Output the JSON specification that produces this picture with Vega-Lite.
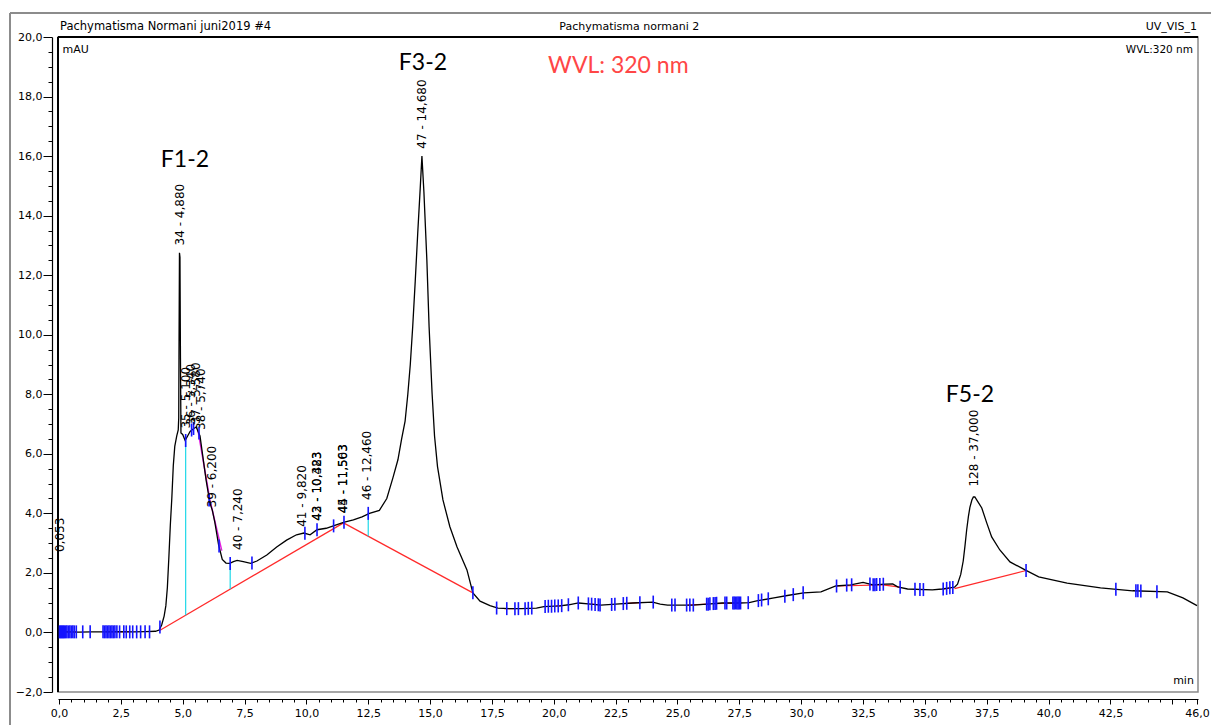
{
  "$schema": "https://vega.github.io/schema/vega-lite/v6.json",
  "width": 1140,
  "height": 655,
  "autosize": {"type": "none"},
  "padding": {"left": 58, "top": 37, "right": 13, "bottom": 33},
  "background": "white",
  "config": {
    "view": {"stroke": "#8a8a8a", "strokeWidth": 1.5},
    "font": "DejaVu Sans",
    "axis": {"labelFont": "DejaVu Sans", "labelFontSize": 11, "labelColor": "black", "tickColor": "black", "domainColor": "black", "grid": false, "titleFont": "DejaVu Sans", "titleFontWeight": "normal", "titleFontSize": 11, "titleColor": "black"}
  },
  "datasets": {
    "anchor": [{}],
    "signal": [
      {"t":0.00,"v":0.00},{"t":0.03,"v":0.06},{"t":0.06,"v":0.02},{"t":0.3,"v":0.02},{"t":0.8,"v":0.01},{"t":1.3,"v":0.02},{"t":1.8,"v":0.02},{"t":2.4,"v":0.03},{"t":3.0,"v":0.02},{"t":3.5,"v":0.03},{"t":3.9,"v":0.04},
      {"t":4.05,"v":0.08},{"t":4.15,"v":0.25},{"t":4.25,"v":0.55},{"t":4.32,"v":0.9},{"t":4.38,"v":1.5},{"t":4.44,"v":2.5},{"t":4.50,"v":3.6},{"t":4.56,"v":4.5},{"t":4.62,"v":5.6},{"t":4.68,"v":6.25},{"t":4.76,"v":6.6},{"t":4.82,"v":6.8},{"t":4.84,"v":7.2},{"t":4.85,"v":9.25},{"t":4.87,"v":12.75},{"t":4.89,"v":12.6},{"t":4.91,"v":9.2},{"t":4.93,"v":6.7},
      {"t":5.00,"v":6.65},{"t":5.10,"v":6.45},{"t":5.20,"v":6.6},{"t":5.30,"v":6.75},{"t":5.45,"v":6.85},{"t":5.55,"v":6.9},{"t":5.62,"v":6.75},{"t":5.70,"v":6.6},{"t":5.80,"v":6.0},{"t":5.95,"v":5.1},{"t":6.10,"v":4.35},{"t":6.20,"v":4.1},{"t":6.30,"v":3.7},{"t":6.45,"v":2.95},{"t":6.60,"v":2.45},{"t":6.75,"v":2.33},{"t":6.90,"v":2.32},{"t":7.05,"v":2.38},{"t":7.20,"v":2.42},{"t":7.45,"v":2.38},{"t":7.75,"v":2.32},
      {"t":8.00,"v":2.4},{"t":8.40,"v":2.6},{"t":8.80,"v":2.87},{"t":9.20,"v":3.1},{"t":9.60,"v":3.28},{"t":9.90,"v":3.34},{"t":10.15,"v":3.28},{"t":10.43,"v":3.45},{"t":10.80,"v":3.5},{"t":11.15,"v":3.6},{"t":11.50,"v":3.7},{"t":11.90,"v":3.78},{"t":12.25,"v":3.88},{"t":12.55,"v":4.0},{"t":12.95,"v":4.1},
      {"t":13.25,"v":4.5},{"t":13.50,"v":5.2},{"t":13.70,"v":5.8},{"t":13.85,"v":6.5},{"t":13.99,"v":7.1},{"t":14.10,"v":8.0},{"t":14.20,"v":9.0},{"t":14.30,"v":10.3},{"t":14.40,"v":11.8},{"t":14.50,"v":13.4},{"t":14.60,"v":14.9},{"t":14.67,"v":16.0},{"t":14.75,"v":14.8},{"t":14.87,"v":12.5},{"t":14.96,"v":10.27},{"t":15.08,"v":8.04},{"t":15.18,"v":6.6},{"t":15.30,"v":5.57},{"t":15.52,"v":4.45},{"t":15.80,"v":3.55},{"t":16.09,"v":2.87},{"t":16.49,"v":2.1},{"t":16.73,"v":1.33},{"t":17.02,"v":1.05},{"t":17.42,"v":0.9},{"t":17.74,"v":0.82},
      {"t":18.2,"v":0.8},{"t":18.7,"v":0.8},{"t":19.3,"v":0.82},{"t":19.6,"v":0.87},{"t":20.25,"v":0.89},{"t":20.6,"v":0.93},{"t":21.0,"v":0.99},{"t":21.5,"v":0.95},{"t":21.9,"v":0.92},{"t":22.5,"v":0.95},{"t":23.2,"v":0.99},{"t":24.0,"v":1.02},{"t":24.3,"v":0.95},{"t":24.6,"v":0.92},{"t":25.6,"v":0.92},{"t":26.2,"v":0.95},{"t":26.8,"v":0.99},{"t":27.5,"v":0.99},{"t":27.9,"v":1.0},{"t":28.2,"v":1.06},{"t":28.9,"v":1.16},{"t":29.5,"v":1.25},{"t":30.1,"v":1.33},{"t":30.8,"v":1.36},{"t":31.4,"v":1.56},{"t":32.0,"v":1.6},{"t":32.5,"v":1.68},{"t":32.9,"v":1.6},{"t":33.4,"v":1.62},{"t":33.7,"v":1.63},{"t":33.9,"v":1.53},{"t":34.3,"v":1.46},{"t":35.3,"v":1.43},{"t":35.7,"v":1.46},{"t":36.0,"v":1.5},{"t":36.2,"v":1.52},
      {"t":36.32,"v":1.62},{"t":36.45,"v":1.95},{"t":36.55,"v":2.4},{"t":36.62,"v":2.9},{"t":36.69,"v":3.45},{"t":36.76,"v":3.9},{"t":36.82,"v":4.2},{"t":36.9,"v":4.45},{"t":36.96,"v":4.55},{"t":37.02,"v":4.55},{"t":37.12,"v":4.42},{"t":37.3,"v":4.18},{"t":37.5,"v":3.68},{"t":37.7,"v":3.21},{"t":38.03,"v":2.77},{"t":38.44,"v":2.37},{"t":39.05,"v":2.1},{"t":39.6,"v":1.87},{"t":40.75,"v":1.66},{"t":42.1,"v":1.5},{"t":43.4,"v":1.4},{"t":44.8,"v":1.36},{"t":45.43,"v":1.16},{"t":46.0,"v":0.9}
    ],
    "baselines": [
      {"seg":"a","t":4.05,"v":0.06},{"seg":"a","t":11.5,"v":3.68},
      {"seg":"b","t":11.5,"v":3.68},{"seg":"b","t":16.73,"v":1.33},
      {"seg":"c","t":36.2,"v":1.47},{"seg":"c","t":39.09,"v":2.08},
      {"seg":"d","t":0.05,"v":0.02},{"seg":"d","t":0.7,"v":0.02},
      {"seg":"e","t":1.9,"v":0.02},{"seg":"e","t":2.9,"v":0.03},
      {"seg":"f","t":18.0,"v":0.8},{"seg":"f","t":18.45,"v":0.8},
      {"seg":"g","t":20.1,"v":0.89},{"seg":"g","t":20.35,"v":0.9},
      {"seg":"h","t":21.5,"v":0.95},{"seg":"h","t":21.85,"v":0.93},
      {"seg":"i","t":22.9,"v":0.98},{"seg":"i","t":23.5,"v":1.0},
      {"seg":"j","t":25.4,"v":0.92},{"seg":"j","t":26.2,"v":0.95},
      {"seg":"k","t":26.5,"v":0.97},{"seg":"k","t":27.6,"v":0.99},
      {"seg":"l","t":31.45,"v":1.56},{"seg":"l","t":33.3,"v":1.6},
      {"seg":"m","t":33.3,"v":1.6},{"seg":"m","t":34.0,"v":1.52},
      {"seg":"n","t":35.75,"v":1.46},{"seg":"n","t":36.05,"v":1.49}
    ],
    "drops": [
      {"t":5.12,"top":6.45,"bottom":0.58},
      {"t":6.92,"top":2.32,"bottom":1.46},
      {"t":12.5,"top":4.0,"bottom":3.23}
    ],
    "skim": [
      {"t":5.62,"v":6.78},{"t":6.1,"v":4.45},{"t":6.58,"v":2.75}
    ],
    "delimiters": [
      {"t":0.02,"v":0.02},{"t":0.06,"v":0.02},{"t":0.1,"v":0.02},{"t":0.14,"v":0.02},{"t":0.18,"v":0.02},{"t":0.22,"v":0.02},{"t":0.27,"v":0.02},{"t":0.32,"v":0.02},{"t":0.38,"v":0.02},{"t":0.44,"v":0.02},{"t":0.5,"v":0.02},{"t":0.56,"v":0.02},{"t":0.62,"v":0.02},{"t":0.7,"v":0.02},{"t":0.96,"v":0.02},{"t":1.26,"v":0.02},
      {"t":1.78,"v":0.02},{"t":1.84,"v":0.02},{"t":1.9,"v":0.02},{"t":1.96,"v":0.02},{"t":2.02,"v":0.02},{"t":2.08,"v":0.02},{"t":2.14,"v":0.02},{"t":2.2,"v":0.02},{"t":2.26,"v":0.02},{"t":2.34,"v":0.02},{"t":2.45,"v":0.02},{"t":2.62,"v":0.02},{"t":2.72,"v":0.02},{"t":2.86,"v":0.02},{"t":2.98,"v":0.02},{"t":3.14,"v":0.02},{"t":3.3,"v":0.02},{"t":3.48,"v":0.02},{"t":3.66,"v":0.02},{"t":4.08,"v":0.18},
      {"t":5.12,"v":6.45},{"t":5.36,"v":6.8},{"t":5.44,"v":6.85},{"t":5.66,"v":6.7},{"t":6.07,"v":4.45},{"t":6.47,"v":2.9},{"t":6.92,"v":2.32},{"t":7.8,"v":2.33},{"t":9.94,"v":3.33},{"t":10.43,"v":3.45},{"t":11.1,"v":3.58},{"t":11.52,"v":3.7},{"t":12.5,"v":4.0},{"t":16.73,"v":1.33},
      {"t":17.69,"v":0.82},{"t":18.1,"v":0.8},{"t":18.43,"v":0.8},{"t":18.57,"v":0.8},{"t":18.84,"v":0.8},{"t":18.97,"v":0.81},{"t":19.11,"v":0.82},{"t":19.65,"v":0.87},{"t":19.78,"v":0.88},{"t":19.91,"v":0.88},{"t":20.04,"v":0.89},{"t":20.18,"v":0.89},{"t":20.32,"v":0.9},{"t":20.59,"v":0.93},{"t":20.99,"v":0.99},{"t":21.4,"v":0.96},{"t":21.53,"v":0.95},{"t":21.67,"v":0.94},{"t":21.8,"v":0.93},{"t":21.87,"v":0.92},{"t":22.34,"v":0.94},{"t":22.47,"v":0.95},{"t":22.81,"v":0.97},{"t":22.95,"v":0.98},{"t":23.48,"v":1.0},{"t":24.02,"v":1.02},{"t":24.77,"v":0.92},{"t":24.9,"v":0.92},{"t":25.37,"v":0.92},{"t":25.5,"v":0.92},{"t":25.64,"v":0.92},{"t":26.18,"v":0.95},{"t":26.24,"v":0.95},{"t":26.31,"v":0.96},{"t":26.45,"v":0.97},{"t":26.52,"v":0.97},{"t":26.58,"v":0.98},{"t":26.92,"v":0.99},{"t":26.99,"v":0.99},{"t":27.24,"v":0.99},{"t":27.29,"v":0.99},{"t":27.34,"v":0.99},{"t":27.4,"v":0.99},{"t":27.45,"v":0.99},{"t":27.5,"v":0.99},{"t":27.55,"v":0.99},{"t":27.86,"v":1.0},{"t":28.27,"v":1.07},{"t":28.4,"v":1.09},{"t":28.67,"v":1.13},{"t":29.34,"v":1.22},{"t":29.68,"v":1.27},{"t":30.08,"v":1.33},
      {"t":31.43,"v":1.56},{"t":31.84,"v":1.59},{"t":32.04,"v":1.6},{"t":32.78,"v":1.63},{"t":32.91,"v":1.6},{"t":32.98,"v":1.6},{"t":33.05,"v":1.61},{"t":33.18,"v":1.61},{"t":33.32,"v":1.62},{"t":34.0,"v":1.52},{"t":34.6,"v":1.45},{"t":34.8,"v":1.44},{"t":34.94,"v":1.44},{"t":35.74,"v":1.46},{"t":35.88,"v":1.48},{"t":36.01,"v":1.5},{"t":36.13,"v":1.51},
      {"t":39.09,"v":2.08},{"t":42.72,"v":1.45},{"t":43.53,"v":1.4},{"t":43.61,"v":1.4},{"t":43.73,"v":1.39},{"t":44.38,"v":1.37}
    ],
    "peaks": [
      {"label":"0,053","t":0.053,"v":2.7},
      {"label":"34 - 4,880","t":4.88,"v":13.0},
      {"label":"35 - 5,100","t":5.12,"v":6.85},
      {"label":"36 - 5,340","t":5.34,"v":6.95},
      {"label":"37 - 5,580","t":5.55,"v":7.0},
      {"label":"38 - 5,740","t":5.74,"v":6.8},
      {"label":"39 - 6,200","t":6.2,"v":4.2},
      {"label":"40 - 7,240","t":7.24,"v":2.77},
      {"label":"41 - 9,820","t":9.82,"v":3.55},
      {"label":"42 - 10,383","t":10.43,"v":3.75},
      {"label":"43 - 10,423","t":10.43,"v":3.75},
      {"label":"44 - 11,503","t":11.5,"v":4.0},
      {"label":"45 - 11,563","t":11.5,"v":4.0},
      {"label":"46 - 12,460","t":12.46,"v":4.45},
      {"label":"47 - 14,680","t":14.68,"v":16.25},
      {"label":"128 - 37,000","t":37.0,"v":4.9}
    ],
    "fractions": [
      {"name":"F1-2","t":5.09,"v":15.88},
      {"name":"F3-2","t":14.71,"v":19.11},
      {"name":"F5-2","t":36.82,"v":7.98}
    ]
  },
  "resolve": {"axis": {"x": "independent", "y": "independent"}},
  "layer": [
    {
      "data": {"name": "anchor"},
      "mark": {"type": "rule", "color": "black", "strokeWidth": 2},
      "encoding": {
        "x": {"datum": -0.04, "type": "quantitative", "scale": {"domain": [-0.04, 46.04], "nice": false, "zero": false}, "axis": null},
        "y": {"datum": -2, "type": "quantitative", "scale": {"domain": [-2, 20], "nice": false, "zero": false}, "axis": null},
        "y2": {"datum": 20}
      }
    },
    {
      "data": {"name": "anchor"},
      "mark": {"type": "rule", "color": "black", "strokeWidth": 2},
      "encoding": {
        "x": {"datum": -0.04, "type": "quantitative", "axis": null},
        "x2": {"datum": 46.04},
        "y": {"datum": 20, "type": "quantitative", "axis": null}
      }
    },
    {
      "data": {"name": "baselines"},
      "mark": {"type": "line", "color": "#ff2a2a", "strokeWidth": 1.2},
      "encoding": {
        "x": {"field": "t", "type": "quantitative", "axis": null},
        "y": {"field": "v", "type": "quantitative", "axis": null},
        "detail": {"field": "seg"}
      }
    },
    {
      "data": {"name": "drops"},
      "mark": {"type": "rule", "color": "#1fd8e8", "strokeWidth": 1.2},
      "encoding": {
        "x": {"field": "t", "type": "quantitative", "axis": null},
        "y": {"field": "top", "type": "quantitative", "axis": null},
        "y2": {"field": "bottom"}
      }
    },
    {
      "data": {"name": "skim"},
      "mark": {"type": "line", "color": "#e020e0", "strokeWidth": 1.5},
      "encoding": {
        "x": {"field": "t", "type": "quantitative", "axis": null},
        "y": {"field": "v", "type": "quantitative", "axis": null}
      }
    },
    {
      "data": {"name": "signal"},
      "mark": {"type": "line", "color": "black", "strokeWidth": 1.3},
      "encoding": {
        "x": {
          "field": "t", "type": "quantitative",
          "axis": {
            "orient": "bottom", "offset": 7, "values": [0, 2.5, 5, 7.5, 10, 12.5, 15, 17.5, 20, 22.5, 25, 27.5, 30, 32.5, 35, 37.5, 40, 42.5, 45, 46],
            "labelExpr": "datum.value == 45 ? '' : replace(format(datum.value, '.1f'), '.', ',')",
            "tickSize": 5, "labelPadding": 3, "labelOverlap": false, "labelFlush": false, "domainWidth": 1.2,
            "title": "min", "titleX": 1125, "titleY": -19, "titleAlign": "center", "titleBaseline": "middle", "titleAnchor": null
          }
        },
        "y": {
          "field": "v", "type": "quantitative",
          "axis": {
            "orient": "left", "offset": 6, "values": [-2, 0, 2, 4, 6, 8, 10, 12, 14, 16, 18, 20],
            "labelExpr": "replace(format(datum.value, '.1f'), '.', ',')",
            "tickSize": 9, "labelPadding": 1, "labelOverlap": false, "labelFlush": false, "domainWidth": 1.2,
            "title": "mAU", "titleAngle": 0, "titleX": 10, "titleY": 12, "titleAlign": "left", "titleBaseline": "middle", "titleAnchor": null
          }
        }
      }
    },
    {
      "data": {"name": "delimiters"},
      "mark": {"type": "tick", "orient": "vertical", "color": "#1414ff", "opacity": 1, "size": 13, "thickness": 1.6},
      "encoding": {
        "x": {
          "field": "t", "type": "quantitative",
          "axis": {
            "orient": "bottom", "offset": 7, "labels": false, "domain": false, "title": null, "tickSize": 3,
            "values": [0.5,1,1.5,2,3,3.5,4,4.5,5.5,6,6.5,7,8,8.5,9,9.5,10.5,11,11.5,12,13,13.5,14,14.5,15.5,16,16.5,17,18,18.5,19,19.5,20.5,21,21.5,22,23,23.5,24,24.5,25.5,26,26.5,27,28,28.5,29,29.5,30.5,31,31.5,32,33,33.5,34,34.5,35.5,36,36.5,37,38,38.5,39,39.5,40.5,41,41.5,42,43,43.5,44,44.5,45.5]
          }
        },
        "y": {
          "field": "v", "type": "quantitative",
          "axis": {
            "orient": "left", "offset": 6, "labels": false, "domain": false, "title": null, "tickSize": 4,
            "values": [-1.5,-1,-0.5,0.5,1,1.5,2.5,3,3.5,4.5,5,5.5,6.5,7,7.5,8.5,9,9.5,10.5,11,11.5,12.5,13,13.5,14.5,15,15.5,16.5,17,17.5,18.5,19,19.5]
          }
        }
      }
    },
    {
      "data": {"name": "peaks"},
      "mark": {"type": "text", "angle": 270, "align": "left", "baseline": "middle", "font": "DejaVu Sans", "fontSize": 12, "color": "black"},
      "encoding": {
        "x": {"field": "t", "type": "quantitative", "axis": null},
        "y": {"field": "v", "type": "quantitative", "axis": null},
        "text": {"field": "label"}
      }
    },
    {
      "data": {"name": "fractions"},
      "mark": {"type": "text", "align": "center", "baseline": "middle", "font": "Lato", "fontSize": 23, "color": "black"},
      "encoding": {
        "x": {"field": "t", "type": "quantitative", "axis": null},
        "y": {"field": "v", "type": "quantitative", "axis": null},
        "text": {"field": "name"}
      }
    },
    {
      "data": {"name": "anchor"},
      "mark": {"type": "text", "text": "WVL: 320 nm", "align": "left", "baseline": "middle", "font": "Lato", "fontSize": 23, "color": "#ff4646"},
      "encoding": {
        "x": {"datum": 19.77, "type": "quantitative", "axis": null},
        "y": {"datum": 19.04, "type": "quantitative", "axis": null}
      }
    },
    {
      "data": {"name": "anchor"},
      "mark": {"type": "text", "text": "WVL:320 nm", "align": "right", "baseline": "middle", "dx": -5, "dy": 13, "font": "DejaVu Sans", "fontSize": 10.5, "color": "black"},
      "encoding": {
        "x": {"datum": 46.04, "type": "quantitative", "axis": null},
        "y": {"datum": 20, "type": "quantitative", "axis": null}
      }
    },
    {
      "data": {"name": "anchor"},
      "mark": {"type": "text", "text": "Pachymatisma Normani juni2019 #4", "align": "left", "baseline": "middle", "dx": 2, "dy": -10, "font": "DejaVu Sans", "fontSize": 11.5, "color": "black"},
      "encoding": {
        "x": {"datum": -0.04, "type": "quantitative", "axis": null},
        "y": {"datum": 20, "type": "quantitative", "axis": null}
      }
    },
    {
      "data": {"name": "anchor"},
      "mark": {"type": "text", "text": "Pachymatisma normani 2", "align": "center", "baseline": "middle", "dy": -10, "font": "DejaVu Sans", "fontSize": 11, "color": "black"},
      "encoding": {
        "x": {"datum": 23.05, "type": "quantitative", "axis": null},
        "y": {"datum": 20, "type": "quantitative", "axis": null}
      }
    },
    {
      "data": {"name": "anchor"},
      "mark": {"type": "text", "text": "UV_VIS_1", "align": "right", "baseline": "middle", "dx": -1, "dy": -10, "font": "DejaVu Sans", "fontSize": 11, "color": "black"},
      "encoding": {
        "x": {"datum": 46.04, "type": "quantitative", "axis": null},
        "y": {"datum": 20, "type": "quantitative", "axis": null}
      }
    },
    {
      "data": {"name": "anchor"},
      "mark": {"type": "rule", "color": "#8c8c8c", "strokeWidth": 2},
      "encoding": {
        "x": {"datum": -1.98, "type": "quantitative", "axis": null},
        "y": {"datum": -3.5, "type": "quantitative", "axis": null},
        "y2": {"datum": 20.81}
      }
    },
    {
      "data": {"name": "anchor"},
      "mark": {"type": "rule", "color": "#8c8c8c", "strokeWidth": 2},
      "encoding": {
        "x": {"datum": -1.98, "type": "quantitative", "axis": null},
        "x2": {"datum": 47.5},
        "y": {"datum": 20.81, "type": "quantitative", "axis": null}
      }
    }
  ]
}
